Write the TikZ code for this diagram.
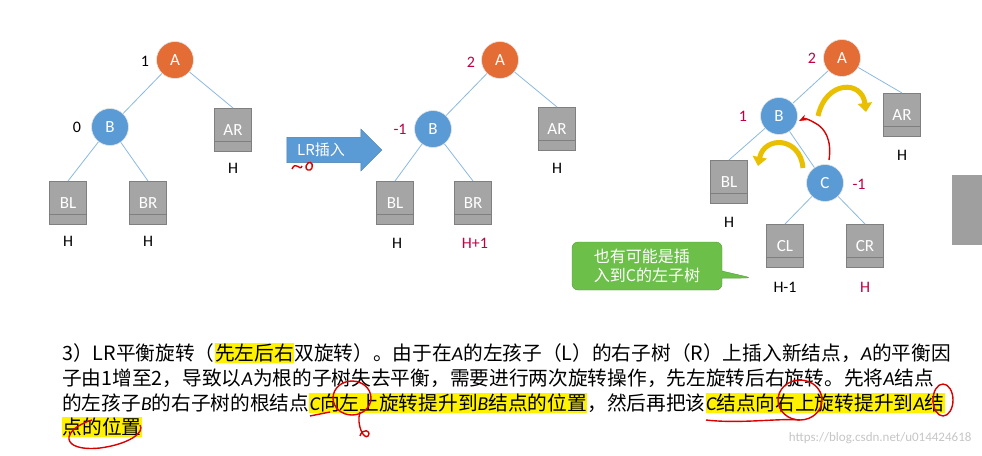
\documentclass[tikz,border=0pt]{standalone}
\usepackage{fontspec}
\setmainfont{Carlito}
\newfontfamily\cj{Noto Sans CJK SC}
\usetikzlibrary{arrows.meta,shapes.arrows,shapes.callouts}
\definecolor{orA}{HTML}{E46C35}
\definecolor{blB}{HTML}{5B9BD5}
\definecolor{bxg}{HTML}{A5A5A5}
\definecolor{bxd}{HTML}{7F7F7F}
\definecolor{redt}{HTML}{C00040}
\definecolor{grn}{HTML}{6CC04A}
\definecolor{ylw}{HTML}{E8C000}
\newcommand{\hlx}[1]{{\setlength{\fboxsep}{0.5pt}\colorbox{yellow}{#1}}}
\newcommand{\itx}[1]{{\rmfamily\itshape #1}}
\begin{document}
\begin{tikzpicture}[x=1pt,y=-1pt,
  circ/.style={circle,minimum size=37pt,inner sep=0pt,draw=white!80!gray,line width=0.6pt,text=white,font=\fontsize{17}{17}\selectfont},
  anode/.style={circ,fill=orA},
  bnode/.style={circ,fill=blB},
  sub/.style={rectangle,minimum width=37pt,minimum height=43pt,fill=bxg,draw=bxd,line width=1pt,text=white,font=\fontsize{17}{17}\selectfont,
    path picture={\draw[bxd,line width=1pt] ([yshift=10pt]path picture bounding box.south west)--([yshift=10pt]path picture bounding box.south east);}},
  edge/.style={draw=blB!70,line width=0.8pt},
  lab/.style={font=\fontsize{16}{16}\selectfont},
  rlab/.style={lab,text=redt},
  yarr/.style={draw=ylw,line width=5pt,-{Triangle[length=9pt,width=14pt]}},
  redp/.style={draw=red!85!black,line width=1.4pt},
  tl/.style={anchor=west,inner sep=0pt,font=\cj\fontsize{19.7}{19.7}\selectfont}]
\useasboundingbox (0,0) rectangle (982,455);
\fill[white] (0,0) rectangle (982,455);
% right tab
\fill[gray!75] (952,175) rectangle (982,245);
% ---- tree 1
\node[anode] (a1) at (175,60) {A};
\node[bnode] (b1) at (110,127) {B};
\node[sub] (ar1) at (233,130) {AR};
\node[sub] (bl1) at (68,203) {BL};
\node[sub] (br1) at (148,203) {BR};
\draw[edge] (a1)--(b1); \draw[edge] (a1)--(ar1.north); \draw[edge] (b1)--(bl1.north); \draw[edge] (b1)--(br1.north);
\node[lab] (n1) at (145,61) {1};
\node[lab] (n0) at (77,127) {0};
\node[lab] (h1) at (233,168) {H};
\node[lab] (h2) at (68,241) {H};
\node[lab] (h3) at (148,241) {H};
% arrow
\node[single arrow,fill=blB,draw=blB!80!black,minimum height=95pt,minimum width=42pt,single arrow head extend=6pt,text=white,font=\cj\fontsize{15}{15}\selectfont,inner sep=2pt] (ins) at (328,150) {\hspace*{-14pt}LR插入};
\draw[redp] (292,169) .. controls (296,160) and (300,172) .. (302,166);
\draw[redp] (306,166) .. controls (308,160) and (314,162) .. (312,168) .. controls (310,172) and (305,170) .. (306,166);
% ---- tree 2
\node[anode] (a2) at (500,60) {A};
\node[bnode] (b2) at (433,129) {B};
\node[sub] (ar2) at (557,129) {AR};
\node[sub] (bl2) at (395,203) {BL};
\node[sub] (br2) at (473,203) {BR};
\draw[edge] (a2)--(b2); \draw[edge] (a2)--(ar2.north); \draw[edge] (b2)--(bl2.north); \draw[edge] (b2)--(br2.north);
\node[rlab] (m2) at (471,62) {2};
\node[rlab] (m1) at (400,129) {-1};
\node[lab] (h4) at (557,168) {H};
\node[lab] (h5) at (397,243) {H};
\node[rlab] (h6) at (475,243) {H+1};
% ---- tree 3
\node[anode] (a3) at (842,58) {A};
\node[bnode] (b3) at (779,116) {B};
\node[sub] (ar3) at (902,115) {AR};
\node[sub] (bl3) at (729,182) {BL};
\node[bnode] (c3) at (825,183) {C};
\node[sub] (cl3) at (785,246) {CL};
\node[sub] (cr3) at (865,246) {CR};
\draw[edge] (a3)--(b3); \draw[edge] (a3)--(ar3.north); \draw[edge] (b3)--(bl3.north); \draw[edge] (b3)--(c3);
\draw[edge] (c3)--(cl3.north); \draw[edge] (c3)--(cr3.north);
\node[rlab] (k2) at (812,58) {2};
\node[rlab] (k1) at (743,116) {1};
\node[rlab] (k3) at (859,184) {-1};
\node[lab] (h7) at (902,155) {H};
\node[lab] (h8) at (729,222) {H};
\node[lab] (h9) at (785,287) {H-1};
\node[rlab] (h10) at (865,287) {H};
\draw[yarr] (818,116) .. controls (826,80) and (862,80) .. (866,112);
\draw[yarr] (803,168) .. controls (800,136) and (764,136) .. (758,166);
\draw[redp,-{Stealth[length=8pt]}] (829,160) .. controls (832,140) and (825,128) .. (815,123) .. controls (808,119) and (805,118) .. (799,121);
% callout
\node[rectangle callout,rounded corners=6pt,fill=grn,draw=grn!80!black,text=white,font=\cj\fontsize{16}{19}\selectfont,align=left,minimum width=150pt,minimum height=48pt,callout absolute pointer={(752,278)}] (co) at (647,266) {也有可能是插\\入到C的左子树};
% ---- paragraph
\node[tl] (l1) at (62,353) {3）LR平衡旋转（\hlx{先左后右}双旋转）。由于在\itx{A}的左孩子（L）的右子树（R）上插入新结点，\itx{A}的平衡因};
\node[tl] (l2) at (62,378) {子由1增至2，导致以\itx{A}为根的子树失去平衡，需要进行两次旋转操作，先左旋转后右旋转。先将\itx{A}结点};
\node[tl] (l3) at (62,403) {的左孩子\itx{B}的右子树的根结点\hlx{\itx{C}向左上旋转提升到\itx{B}结点的位置}，然后再把该\hlx{\itx{C}结点向右上旋转提升到\itx{A}结}};
\node[tl] (l4) at (62,427) {\hlx{点的位置}};
\node[anchor=east,text=gray!45,font=\fontsize{13}{13}\selectfont] (wm) at (975,438) {https://blog.csdn.net/u014424618};
% red scribbles
\draw[redp] (352,398) ellipse (19pt and 17pt);
\draw[redp] (310,416)--(330,412);
\draw[redp] (360,412) .. controls (356,425) and (364,440) .. (368,436) .. controls (372,430) and (362,428) .. (360,436);
\draw[redp] (800,400) ellipse (22pt and 20pt);
\draw[redp] (706,420) .. controls (740,424) and (780,418) .. (800,420);
\draw[redp] (943,400) ellipse (10pt and 16pt);
\draw[redp] (92,420) .. controls (60,430) and (60,452) .. (100,448) .. controls (130,444) and (145,432) .. (140,425);
\end{tikzpicture}
\end{document}
